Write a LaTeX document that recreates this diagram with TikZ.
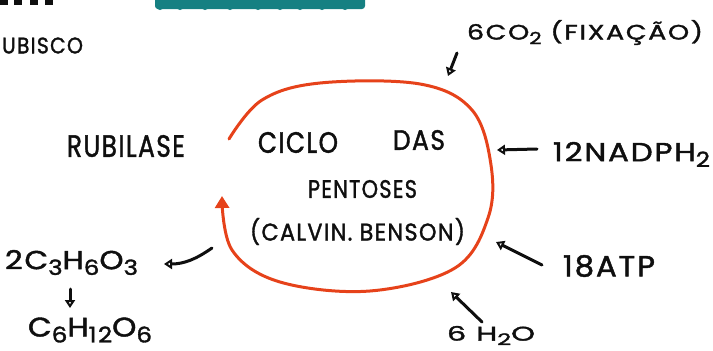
\documentclass[tikz,border=0pt]{standalone}
\usepackage{fontspec}
\setmainfont{Poppins}[LetterSpace=6, FakeBold=1.5]
\usetikzlibrary{arrows.meta}
\definecolor{cyc}{RGB}{230,66,26}
\definecolor{tealx}{RGB}{22,128,130}
\definecolor{ink}{RGB}{15,15,15}
\newcommand{\lsub}[1]{\raisebox{-0.22em}{\scalebox{0.8}{#1}}}
\newcommand{\hw}[3]{\resizebox*{#1pt}{#2pt}{#3}}
\begin{document}
\begin{tikzpicture}[x=1pt,y=-1pt,
  txt/.style={inner sep=0pt,text=ink,font=\fontsize{20}{24}\selectfont},
  arr/.style={draw=ink,line width=3pt,line cap=round,-{Triangle[open,length=8pt,width=10pt,line width=2.4pt]}}]
\useasboundingbox (0,0) rectangle (713,351);
% cut-off title fragments
\fill[ink] (0,0) rectangle (8,5);
\fill[ink] (14,0) rectangle (22,5);
\fill[ink] (30,0) rectangle (38,5);
\fill[ink] (45,0) rectangle (53,5);
\fill[tealx,rounded corners=3pt] (155,-4) rectangle (365,9);
\foreach \xx in {160,180,205,230,258,280,300,322,345}{\fill[tealx] (\xx,6) circle (4pt);}
% texts
\node[txt] (ubisco) at (42.5,45.5) {\hw{81}{16}{UBISCO}};
\node[txt] (co2) at (585,32.5) {\hw{236}{25}{6CO\lsub{2} (FIXAÇÃO)}};
\node[txt] (rub) at (126,146) {\hw{118}{22}{RUBILASE}};
\node[txt] (ciclo) at (298,142.5) {\hw{80}{21}{CICLO}};
\node[txt] (das) at (419,140) {\hw{52}{20}{DAS}};
\node[txt] (pent) at (362.5,189) {\hw{109}{18}{PENTOSES}};
\node[txt] (calv) at (357.5,231.5) {\hw{215}{27}{(CALVIN. BENSON)}};
\node[txt] (nadph) at (631.5,154.5) {\hw{157}{25}{12NADPH\lsub{2}}};
\node[txt] (atp) at (609,266) {\hw{92}{22}{18ATP}};
\node[txt] (h2o) at (491,335.5) {\hw{88}{19}{6 H\lsub{2}O}};
\node[txt] (c3) at (71.5,262.5) {\hw{133}{25}{2C\lsub{3}H\lsub{6}O\lsub{3}}};
\node[txt] (c6) at (90,330) {\hw{124}{25}{C\lsub{6}H\lsub{12}O\lsub{6}}};
% cycle
\draw[cyc,line width=3pt,line cap=round,-{Triangle[length=12pt,width=14pt]}]
  plot[smooth,tension=0.6] coordinates {(229,139) (262,100) (320,83) (420,84) (472,110) (491,165) (488,218) (455,268) (370,291) (280,282) (232,250) (222,196)};
% connectors
\coordinate (co2s) at (457,53);  \coordinate (co2e) at (448,76);
\coordinate (nads) at (537,149); \coordinate (nade) at (497,150);
\coordinate (atps) at (542,265); \coordinate (atpe) at (496,242);
\coordinate (h2os) at (482,322); \coordinate (h2oe) at (451,292);
\coordinate (c3s) at (212,248);  \coordinate (c3e) at (164,264);
\coordinate (c6s) at (70,289);   \coordinate (c6e) at (70,308);
\draw[arr] (co2s) -- (co2e);
\draw[arr] (nads) -- (nade);
\draw[arr] (atps) -- (atpe);
\draw[arr] (h2os) -- (h2oe);
\draw[arr] (c3s) to[out=215,in=0] (c3e);
\draw[arr] (c6s) -- (c6e);
\end{tikzpicture}
\end{document}
